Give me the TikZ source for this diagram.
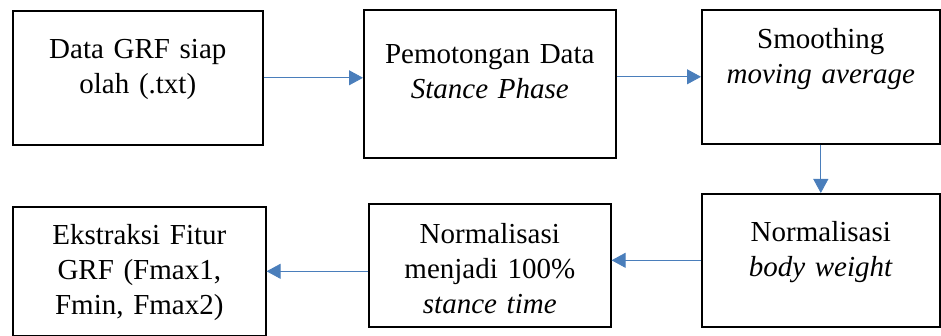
\documentclass[tikz,border=0pt]{standalone}
\usepackage{fontspec}
\setmainfont{Liberation Serif}
\usetikzlibrary{arrows.meta}

\definecolor{panah}{HTML}{4A7EBB}

\tikzset{
  kotak/.style={draw, line width=1.6pt, inner sep=0pt, align=center, anchor=north west,
    font=\fontsize{29}{35}\selectfont},
  alur/.style={draw=panah, line width=0.8pt, -{Triangle[length=14pt, width=15pt]}}
}

\begin{document}
\begin{tikzpicture}[x=1pt, y=-1pt]
  \useasboundingbox (0,0) rectangle (941,336);

  \node[kotak, text width=250pt, text height=48pt, text depth=86pt] (A) at (12,10)
    {Data GRF siap\\olah (.txt)};
  \node[kotak, text width=252pt, text height=54pt, text depth=94pt] (B) at (363,9)
    {Pemotongan Data\\\textit{Stance Phase}};
  \node[kotak, text width=238pt, text height=39pt, text depth=95pt] (C) at (701,9)
    {Smoothing\\\textit{moving average}};
  \node[kotak, text width=238pt, text height=48pt, text depth=85pt] (D) at (701,193)
    {Normalisasi\\\textit{body weight}};
  \node[kotak, text width=242pt, text height=40pt, text depth=83pt] (E) at (368,203)
    {Normalisasi\\menjadi 100\%\\\textit{stance time}};
  \node[kotak, text width=253pt, text height=38pt, text depth=91pt] (F) at (12,206)
    {Ekstraksi Fitur\\GRF (Fmax1,\\Fmin, Fmax2)};

  \draw[alur] (A.east) -- (A.east -| B.west);
  \draw[alur] (C.west -| B.east) -- (C.west);
  \draw[alur] (C.south -| D.north) -- (D.north);
  \draw[alur] (D.west) -- (D.west -| E.east);
  \draw[alur] (E.west |- F.east) -- (F.east);
\end{tikzpicture}
\end{document}
